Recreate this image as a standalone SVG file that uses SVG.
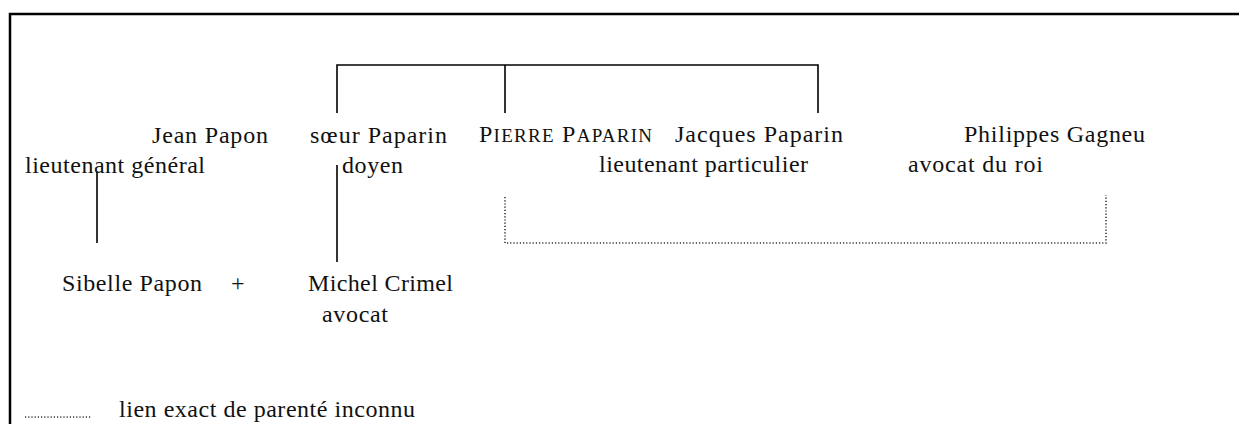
<svg xmlns="http://www.w3.org/2000/svg" width="1239" height="424" viewBox="0 0 1239 424">
<style>
text{font-family:"Liberation Serif","Times New Roman",serif;font-size:24px;fill:#111}
.sc{font-size:19px}
.solid{stroke:#000;stroke-width:1.6;fill:none}
.dot{stroke:#333;stroke-width:1.6;fill:none;stroke-dasharray:1.2 2}
.frame{stroke:#000;stroke-width:2.5;fill:none}
</style>
<rect width="1239" height="424" fill="#fff"/>
<path class="frame" d="M10,424 V14 H1239"/>
<g id="connectors">
<path class="solid" d="M337,113 V65 H818 V113"/>
<path class="solid" d="M505,65 V113"/>
<path class="solid" d="M97,172 V243"/>
<path class="solid" d="M337,165 V262"/>
<path class="dot" d="M505,197 V243 H1106 V195"/>
</g>
<g id="jean-papon"><text x="152" y="143" textLength="116">Jean Papon</text><text x="25" y="173" textLength="180">lieutenant général</text></g>
<g id="soeur-paparin"><text x="310" y="143" textLength="137">sœur Paparin</text><text x="342" y="173" textLength="61">doyen</text></g>
<g id="pierre-paparin"><text x="479" y="142" textLength="173">P<tspan class="sc">IERRE</tspan> P<tspan class="sc">APARIN</tspan></text></g>
<g id="jacques-paparin"><text x="675" y="142" textLength="168">Jacques Paparin</text><text x="599" y="172" textLength="209">lieutenant particulier</text></g>
<g id="philippes-gagneu"><text x="964" y="142" textLength="181">Philippes Gagneu</text><text x="908" y="172" textLength="135">avocat du roi</text></g>
<g id="sibelle-papon"><text x="62" y="291" textLength="140">Sibelle Papon</text></g>
<g id="plus"><text x="231" y="291">+</text></g>
<g id="michel-crimel"><text x="308" y="291" textLength="145">Michel Crimel</text><text x="322" y="322" textLength="66">avocat</text></g>
<g id="legend"><path class="dot" d="M25,417 H92"/><text x="119" y="417" textLength="296">lien exact de parenté inconnu</text></g>
</svg>
